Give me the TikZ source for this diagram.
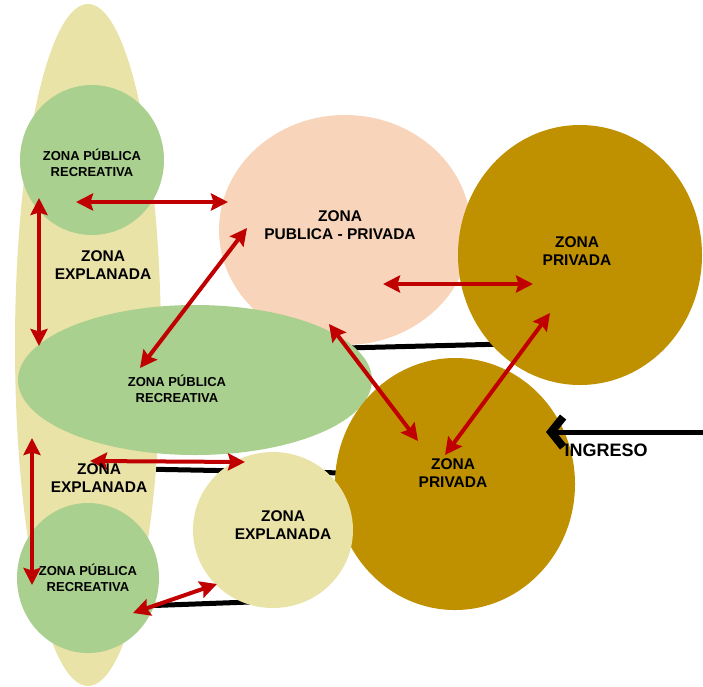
\documentclass[tikz,border=0pt]{standalone}
\usepackage{fontspec}
\setmainfont{Liberation Sans}
\usetikzlibrary{arrows.meta,shapes.geometric}
\definecolor{ExplanadaBeige}{RGB}{233,227,168}
\definecolor{PublicaGreen}{RGB}{169,208,142}
\definecolor{MixtaPink}{RGB}{248,213,186}
\definecolor{PrivadaGold}{RGB}{191,144,0}
\definecolor{FlechaRed}{RGB}{192,0,0}
\tikzset{
  zona/.style={ellipse,inner sep=0pt,draw=none},
  flecha/.style={FlechaRed,line width=4pt,
    {Stealth[length=17pt,width=17pt,inset=2.5pt]}-{Stealth[length=17pt,width=17pt,inset=2.5pt]}},
  muro/.style={line width=5pt},
  rotulo/.style={font=\bfseries\fontsize{15.5}{18.5}\selectfont,align=center},
  rotulochico/.style={font=\bfseries\fontsize{13}{15.5}\selectfont,align=center}
}

\begin{document}
\begin{tikzpicture}[x=1pt,y=-1pt]
  \useasboundingbox (0,0) rectangle (703,686);
  % muros (detras de las zonas)
  \coordinate (muroA1) at (345,348);
  \coordinate (muroA2) at (505,344);
  \coordinate (muroB1) at (140,469);
  \coordinate (muroB2) at (345,473);
  \coordinate (muroC1) at (140,606);
  \coordinate (muroC2) at (250,602);
  \draw[muro] (muroA1) -- (muroA2);
  \draw[muro] (muroB1) -- (muroB2);
  \draw[muro] (muroC1) -- (muroC2);

  % zonas
  \node[zona,fill=ExplanadaBeige,minimum width=146pt,minimum height=682pt] (explanada) at (88,345) {};
  \node[zona,fill=PublicaGreen,minimum width=144pt,minimum height=150pt] (publicaA) at (92,160) {};
  \node[zona,fill=PublicaGreen,minimum width=142pt,minimum height=150pt] (publicaC) at (88,578) {};
  \node[zona,fill=MixtaPink,minimum width=252pt,minimum height=230pt] (mixta) at (345,230) {};
  \node[zona,fill=PublicaGreen,minimum width=354pt,minimum height=150pt] (publicaB) at (195,380) {};
  \node[zona,fill=PrivadaGold,minimum width=244pt,minimum height=260pt] (privadaA) at (580,255) {};
  \node[zona,fill=PrivadaGold,minimum width=240pt,minimum height=252pt] (privadaB) at (455,484) {};
  \node[zona,fill=ExplanadaBeige,minimum width=160pt,minimum height=156pt] (explanadaB) at (273,530) {};

  % flechas
  \coordinate (fA1) at (76,202);   \coordinate (fA2) at (228,202);
  \coordinate (fB1) at (39,198);   \coordinate (fB2) at (39,346);
  \coordinate (fC1) at (140,368);  \coordinate (fC2) at (247,228);
  \coordinate (fD1) at (383,284);  \coordinate (fD2) at (533,284);
  \coordinate (fE1) at (329,324);  \coordinate (fE2) at (418,441);
  \coordinate (fF1) at (550,313);  \coordinate (fF2) at (445,455);
  \coordinate (fG1) at (32,438);   \coordinate (fG2) at (32,585);
  \coordinate (fH1) at (90,461);   \coordinate (fH2) at (245,462);
  \coordinate (fI1) at (133,613);  \coordinate (fI2) at (217,584);
  \draw[flecha] (fA1) -- (fA2);
  \draw[flecha] (fB1) -- (fB2);
  \draw[flecha] (fC1) -- (fC2);
  \draw[flecha] (fD1) -- (fD2);
  \draw[flecha] (fE1) -- (fE2);
  \draw[flecha] (fF1) -- (fF2);
  \draw[flecha] (fG1) -- (fG2);
  \draw[flecha] (fH1) -- (fH2);
  \draw[flecha] (fI1) -- (fI2);

  % ingreso
  \coordinate (ingresoA) at (703,432);
  \coordinate (ingresoB) at (546,432);
  \draw[muro,-{Straight Barb[length=12pt,width=30pt,line width=8pt]}] (ingresoA) -- (ingresoB);

  % rotulos
  \node[rotulochico] (tPublicaA) at (92,163) {ZONA PÚBLICA\\RECREATIVA};
  \node[rotulo] (tExplanadaA) at (103,265) {ZONA\\EXPLANADA};
  \node[rotulo] (tMixta) at (340,225) {ZONA\\PUBLICA - PRIVADA};
  \node[rotulo] (tPrivadaA) at (577,251) {ZONA\\PRIVADA};
  \node[rotulochico] (tPublicaB) at (177,389) {ZONA PÚBLICA\\RECREATIVA};
  \node[rotulo] (tExplanadaC) at (99,478) {ZONA\\EXPLANADA};
  \node[rotulo] (tExplanadaB) at (283,525) {ZONA\\EXPLANADA};
  \node[rotulo] (tPrivadaB) at (453,473) {ZONA\\PRIVADA};
  \node[rotulochico] (tPublicaC) at (88,578) {ZONA PÚBLICA\\RECREATIVA};
  \node[font=\bfseries\fontsize{18}{21}\selectfont] (ingreso) at (606,450) {INGRESO};
\end{tikzpicture}
\end{document}
